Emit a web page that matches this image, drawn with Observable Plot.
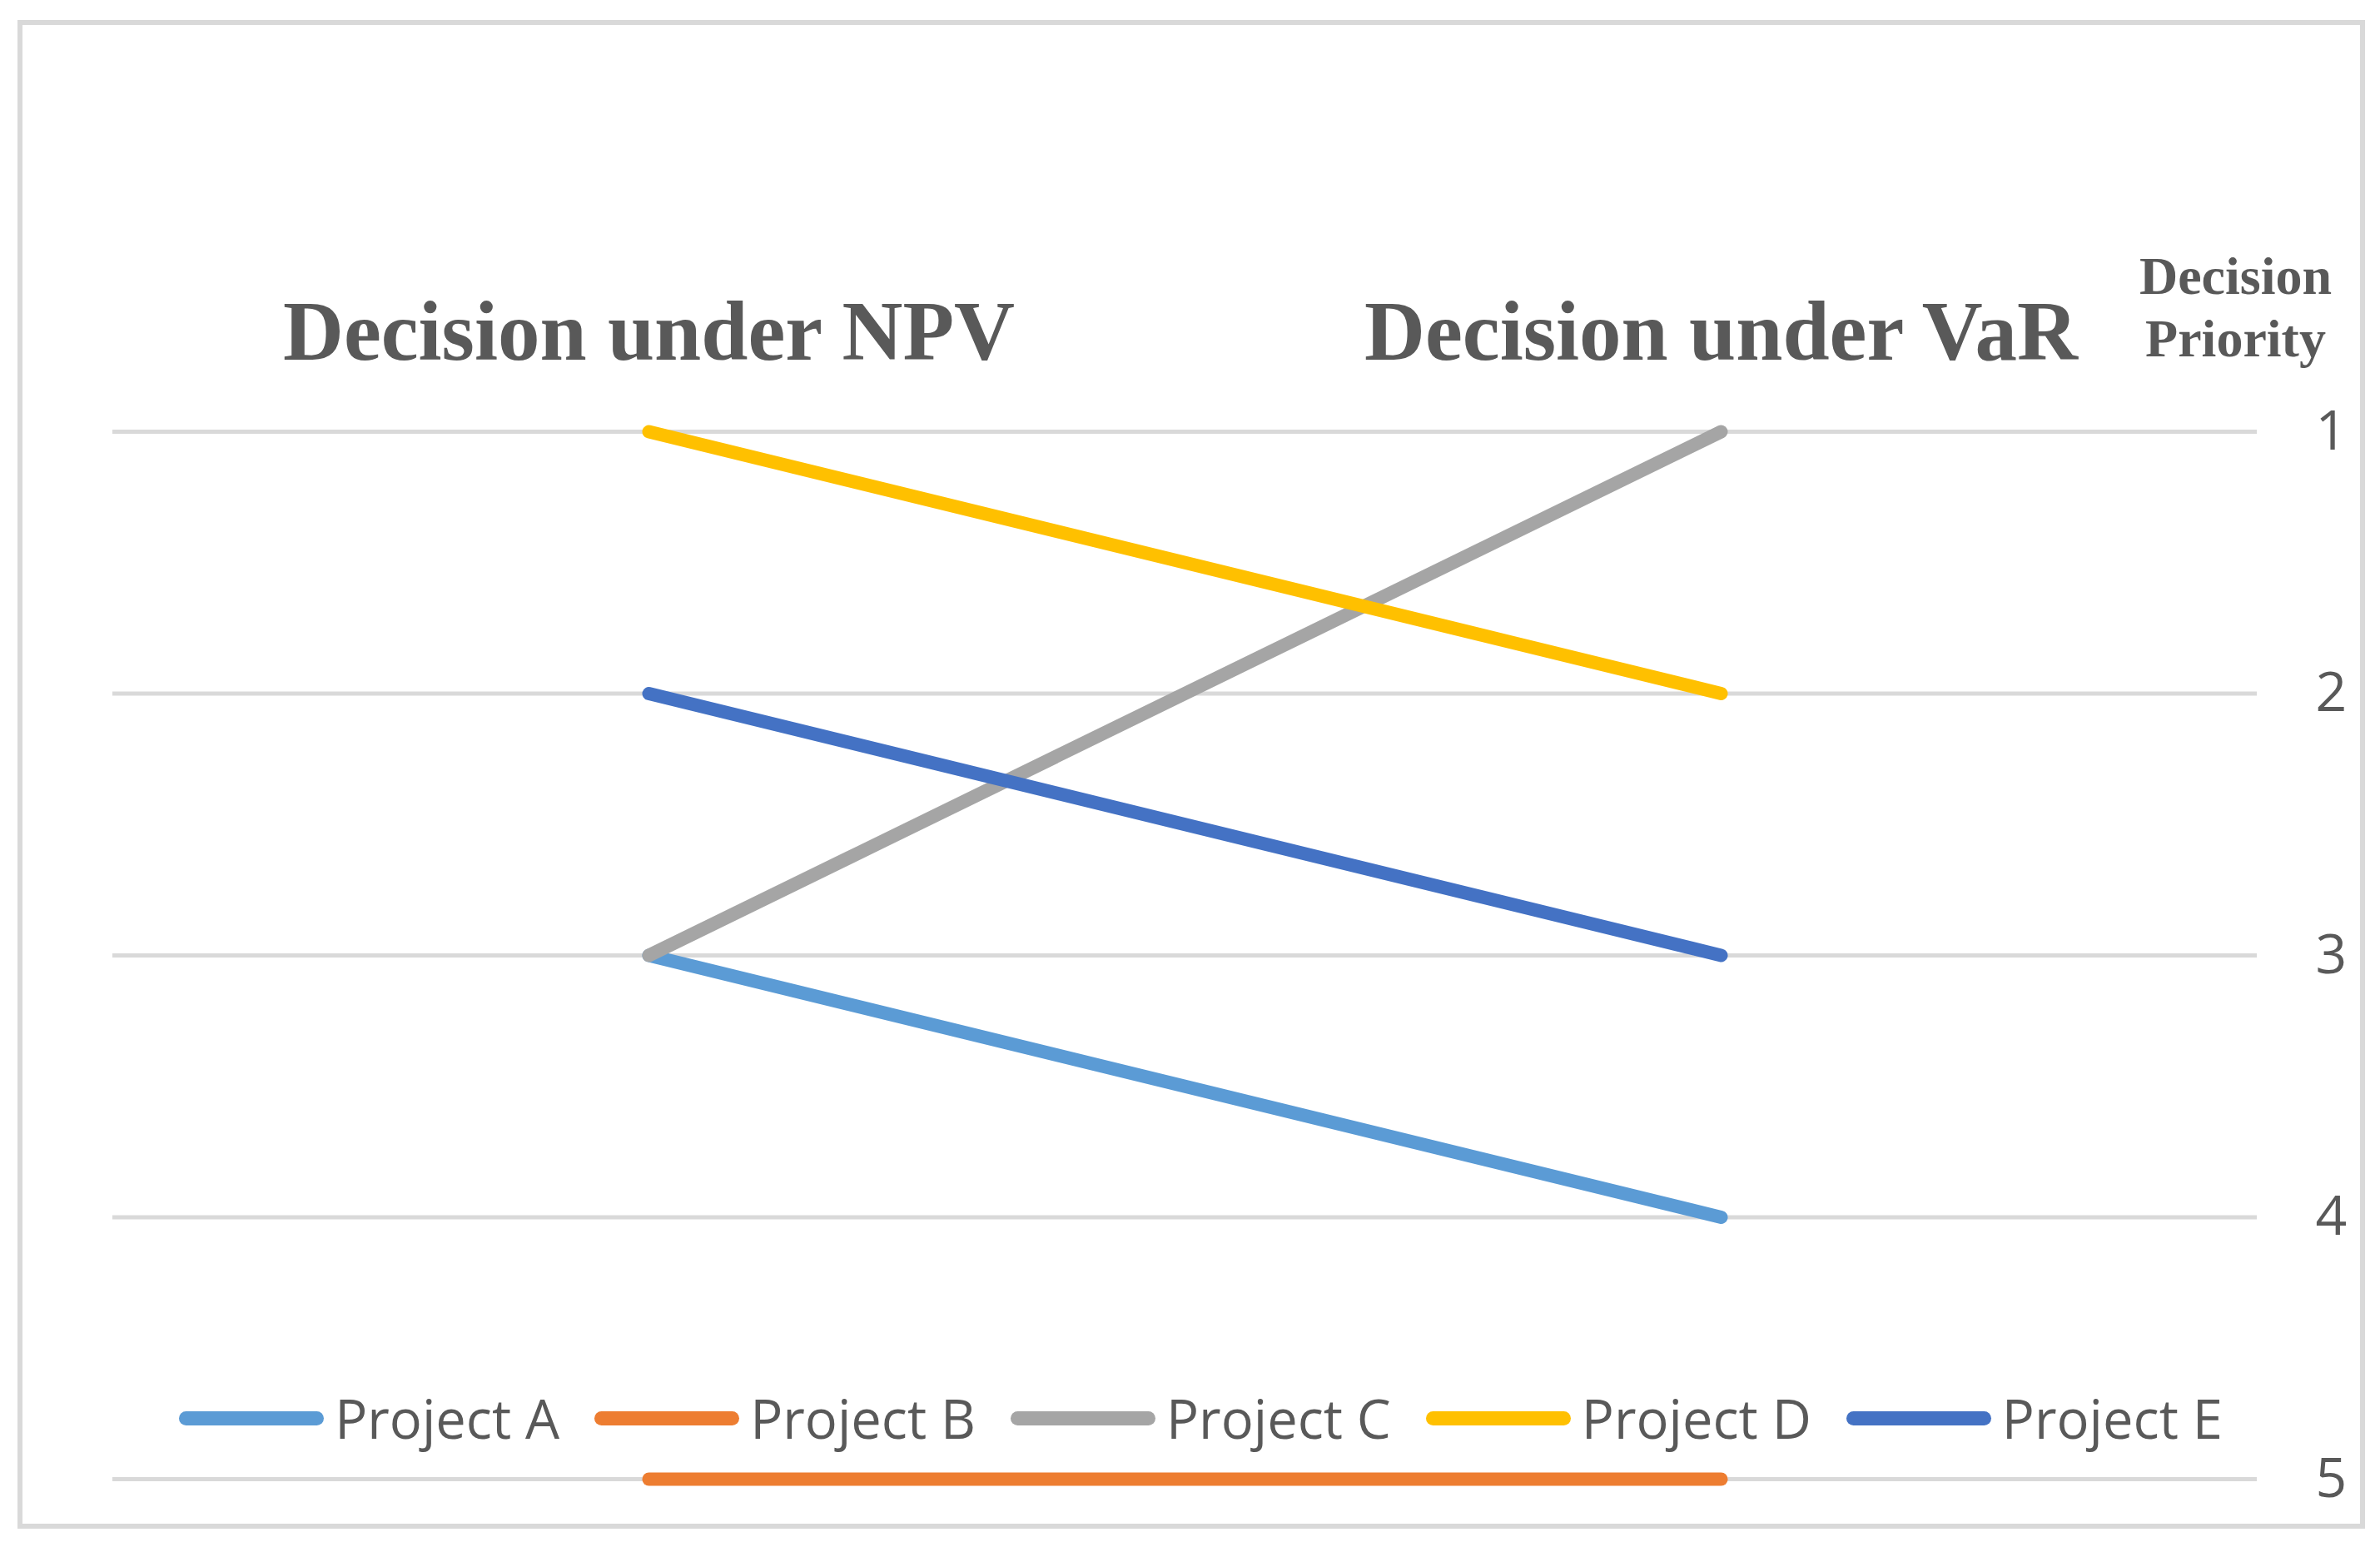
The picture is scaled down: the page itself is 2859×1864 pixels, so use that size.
<!DOCTYPE html>
<html>
<head>
<meta charset="utf-8">
<script src="https://cdn.jsdelivr.net/npm/d3@7"></script>
<script src="https://cdn.jsdelivr.net/npm/@observablehq/plot@0.6"></script>
<style>
  html, body { margin: 0; padding: 0; background: #fff; }
  #wrap { position: relative; width: 2859px; height: 1864px; overflow: hidden; }
  #border { position: absolute; left: 21px; top: 24px; width: 2808px; height: 1800px; border: 6px solid #d9d9d9; box-sizing: content-box; pointer-events: none; }
  #chart { position: absolute; left: 0; top: 0; }
  #legend { position: absolute; left: 0; width: 2859px; top: 1663px; height: 80px; display: flex; justify-content: center; align-items: center; gap: 42px; padding-left: 26px; box-sizing: border-box; font-family: "Open Sans", sans-serif; font-size: 65px; color: #595959; }
  .item { display: flex; align-items: center; gap: 13px; }
  .sw { width: 174px; height: 17px; border-radius: 9px; }
</style>
</head>
<body>
<div id="wrap">
  <div id="chart"></div>
  <div id="border"></div>
  <div id="legend"></div>
</div>
<script>
// ---- data ----
const projects = ["Project A", "Project B", "Project C", "Project D", "Project E"];
const colors = ["#5B9BD5", "#ED7D31", "#A5A5A5", "#FFC000", "#4472C4"];
const stages = ["Decision under NPV", "Decision under VaR"];
const npvRank = [3, 5, 3, 1, 2];
const varRank = [4, 5, 1, 2, 3];
const priorityTicks = [1, 2, 3, 4, 5];
const axisTitle = "Decision\nPriority";

// long-format table built from the arrays
const rows = [];
projects.forEach((p, i) => {
  rows.push({project: p, stage: stages[0], rank: npvRank[i]});
  rows.push({project: p, stage: stages[1], rank: varRank[i]});
});

const W = 2859, H = 1864;
const chart = Plot.plot({
  width: W,
  height: H,
  marginLeft: 135,
  marginRight: 148,
  marginTop: 518,
  marginBottom: 88,
  style: {background: "transparent", color: "#595959", overflow: "visible"},
  x: {type: "point", domain: stages, padding: 0.5},
  y: {domain: [1, 5], reverse: true},
  color: {domain: projects, range: colors},
  marks: [
    Plot.gridY(priorityTicks, {stroke: "#d9d9d9", strokeOpacity: 1, strokeWidth: 5}),
    Plot.axisY(priorityTicks, {
      anchor: "right", tickSize: 0, tickPadding: 70, label: null,
      tickFormat: d => String(d), textAnchor: "start",
      fontSize: 66, fontFamily: "Open Sans", fill: "#595959"
    }),
    Plot.axisX({
      anchor: "top", tickSize: 0, tickPadding: 87, label: null,
      fontSize: 101, fontWeight: "bold", fontFamily: "Liberation Serif", fill: "#595959"
    }),
    Plot.text([axisTitle], {
      frameAnchor: "top-right", dx: -26, dy: -91,
      textAnchor: "middle", lineAnchor: "bottom", lineHeight: 1.16,
      fontSize: 64, fontWeight: "bold", fontFamily: "Liberation Serif", fill: "#595959"
    }),
    Plot.line(rows, {
      x: "stage", y: "rank", z: "project", stroke: "project",
      strokeWidth: 16, strokeLinecap: "round", strokeLinejoin: "round"
    })
  ]
});
document.getElementById("chart").appendChild(chart);

// legend
const leg = document.getElementById("legend");
projects.forEach((p, i) => {
  const it = document.createElement("div");
  it.className = "item";
  const sw = document.createElement("div");
  sw.className = "sw";
  sw.style.background = colors[i];
  const tx = document.createElement("span");
  tx.textContent = p;
  it.appendChild(sw); it.appendChild(tx);
  leg.appendChild(it);
});
</script>
</body>
</html>
